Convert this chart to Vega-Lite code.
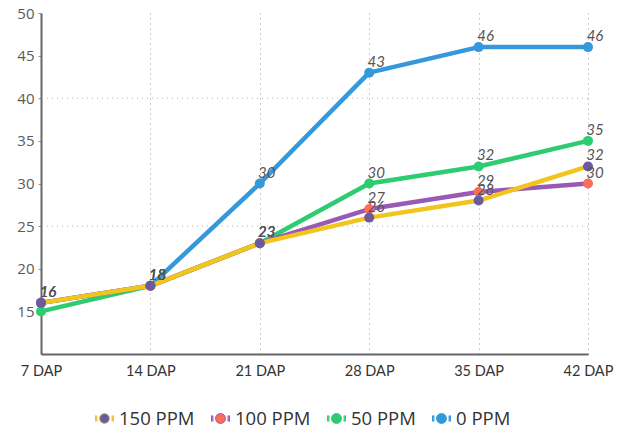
{
  "$schema": "https://vega.github.io/schema/vega-lite/v6.json",
  "width": 547,
  "height": 341,
  "autosize": "none",
  "padding": {"left": 41, "top": 13, "right": 34, "bottom": 82},
  "background": "white",
  "config": {
    "view": {"stroke": null},
    "font": "Lato",
    "axis": {"labelFont": "Lato", "titleFont": "Lato"},
    "legend": {"labelFont": "Open Sans"}
  },
  "datasets": {
    "growth": [
      {"day": "7 DAP", "series": "0 PPM", "value": 16},
      {"day": "14 DAP", "series": "0 PPM", "value": 18},
      {"day": "21 DAP", "series": "0 PPM", "value": 30},
      {"day": "28 DAP", "series": "0 PPM", "value": 43},
      {"day": "35 DAP", "series": "0 PPM", "value": 46},
      {"day": "42 DAP", "series": "0 PPM", "value": 46},
      {"day": "7 DAP", "series": "50 PPM", "value": 15},
      {"day": "14 DAP", "series": "50 PPM", "value": 18},
      {"day": "21 DAP", "series": "50 PPM", "value": 23},
      {"day": "28 DAP", "series": "50 PPM", "value": 30},
      {"day": "35 DAP", "series": "50 PPM", "value": 32},
      {"day": "42 DAP", "series": "50 PPM", "value": 35},
      {"day": "7 DAP", "series": "100 PPM", "value": 16},
      {"day": "14 DAP", "series": "100 PPM", "value": 18},
      {"day": "21 DAP", "series": "100 PPM", "value": 23},
      {"day": "28 DAP", "series": "100 PPM", "value": 27},
      {"day": "35 DAP", "series": "100 PPM", "value": 29},
      {"day": "42 DAP", "series": "100 PPM", "value": 30},
      {"day": "7 DAP", "series": "150 PPM", "value": 16},
      {"day": "14 DAP", "series": "150 PPM", "value": 18},
      {"day": "21 DAP", "series": "150 PPM", "value": 23},
      {"day": "28 DAP", "series": "150 PPM", "value": 26},
      {"day": "35 DAP", "series": "150 PPM", "value": 28},
      {"day": "42 DAP", "series": "150 PPM", "value": 32}
    ],
    "gridValues": [{"g": 25}, {"g": 40}]
  },
  "layer": [
    {
      "data": {"name": "gridValues"},
      "mark": {"type": "rule", "stroke": "#b5b5b5", "strokeWidth": 1, "strokeDash": [1, 4]},
      "encoding": {
        "y": {"field": "g", "type": "quantitative", "scale": {"domain": [10, 50], "nice": false, "zero": false}}
      }
    },
    {
      "data": {"name": "growth"},
      "mark": {"type": "line", "strokeWidth": 4.5, "strokeCap": "round", "strokeJoin": "round"},
      "encoding": {
        "x": {
          "field": "day", "type": "ordinal",
          "scale": {"type": "point", "padding": 0, "domain": ["7 DAP", "14 DAP", "21 DAP", "28 DAP", "35 DAP", "42 DAP"]},
          "axis": {
            "title": null, "labelAngle": 0, "labelFontSize": 14.5, "labelColor": "#333",
            "labelPadding": 10, "ticks": false,
            "domainColor": "#666", "domainWidth": 2,
            "grid": true, "gridColor": "#9a9a9a", "gridDash": [1, 4], "gridWidth": 1
          }
        },
        "y": {
          "field": "value", "type": "quantitative",
          "scale": {"domain": [10, 50], "nice": false, "zero": false},
          "axis": {
            "title": null, "values": [15, 20, 25, 30, 35, 40, 45, 50],
            "labelFont": "Open Sans", "labelFontSize": 15, "labelColor": "#5a5a5a", "labelPadding": 4,
            "tickSize": 3, "tickColor": "#999", "domainColor": "#666", "domainWidth": 2,
            "grid": false
          }
        },
        "stroke": {
          "field": "series", "type": "nominal",
          "scale": {
            "domain": ["150 PPM", "100 PPM", "50 PPM", "0 PPM"],
            "range": ["#f2c41c", "#9b59b6", "#2ecc71", "#3498db"]
          },
          "legend": {
            "title": null, "orient": "none", "legendX": 54, "legendY": 396,
            "direction": "horizontal", "columns": 4, "columnPadding": 14,
            "labelFontSize": 18.5, "labelColor": "#333", "labelOffset": 5,
            "symbolSize": 324, "symbolStrokeWidth": 1,
            "symbolType": "M0.55,0A0.55,0.55 0 1,1 -0.55,0A0.55,0.55 0 1,1 0.55,0Z M-1,-0.33V0.33 M-0.92,-0.33V0.33 M-0.84,-0.33V0.33 M1,-0.33V0.33 M0.92,-0.33V0.33 M0.84,-0.33V0.33"
          }
        }
      }
    },
    {
      "data": {"name": "growth"},
      "mark": {"type": "point", "filled": true, "size": 100, "opacity": 1},
      "encoding": {
        "x": {"field": "day", "type": "ordinal"},
        "y": {"field": "value", "type": "quantitative"},
        "fill": {
          "field": "series", "type": "nominal",
          "scale": {
            "domain": ["150 PPM", "100 PPM", "50 PPM", "0 PPM"],
            "range": ["#6a5a9e", "#fd6b5a", "#2ecc71", "#3498db"]
          },
          "legend": {
            "title": null, "orient": "none", "legendX": 54, "legendY": 396,
            "direction": "horizontal", "columns": 4, "columnPadding": 14,
            "labelFontSize": 18.5, "labelColor": "#333", "labelOffset": 5,
            "symbolSize": 324, "symbolStrokeWidth": 1,
            "symbolType": "M0.55,0A0.55,0.55 0 1,1 -0.55,0A0.55,0.55 0 1,1 0.55,0Z M-1,-0.33V0.33 M-0.92,-0.33V0.33 M-0.84,-0.33V0.33 M1,-0.33V0.33 M0.92,-0.33V0.33 M0.84,-0.33V0.33"
          }
        }
      }
    },
    {
      "data": {"name": "growth"},
      "transform": [{"filter": "!(datum.series === '50 PPM' && datum.day === '7 DAP')"}],
      "mark": {"type": "text", "fontStyle": "italic", "fontSize": 15, "color": "#555", "dx": 7, "dy": -11},
      "encoding": {
        "x": {"field": "day", "type": "ordinal"},
        "y": {"field": "value", "type": "quantitative"},
        "text": {"field": "value", "type": "quantitative"}
      }
    }
  ]
}
